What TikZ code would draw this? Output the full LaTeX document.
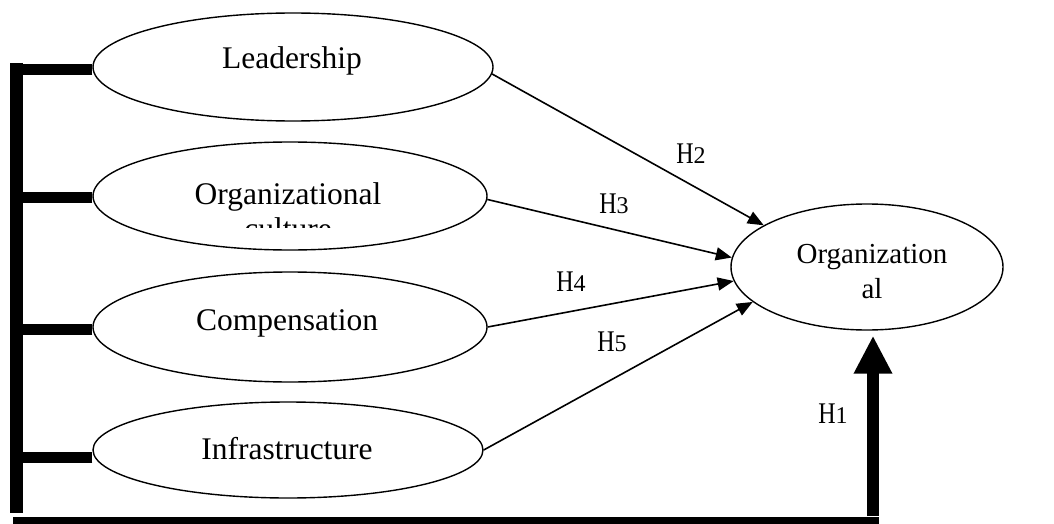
\documentclass[tikz,border=0pt]{standalone}
\usepackage{fontspec}
\setmainfont{Liberation Serif}
\newfontfamily\hfont[FakeStretch=0.8]{Liberation Serif}
\usetikzlibrary{arrows.meta,shapes.geometric}
\newcommand{\hlab}[1]{{\hfont\fontsize{30}{30}\selectfont H}{\rmfamily\fontsize{24}{24}\selectfont #1}}
\begin{document}
\begin{tikzpicture}[x=1pt,y=-1pt,
  ell/.style={draw, ellipse, line width=1.4pt, inner sep=0pt},
  lbl/.style={font=\fontsize{31.5}{36}\selectfont, anchor=base, inner sep=0pt},
  lblr/.style={font=\fontsize{29}{35}\selectfont, anchor=base, inner sep=0pt},
  hl/.style={anchor=base, inner sep=0pt},
  arr/.style={line width=1.6pt, -{Triangle[length=16pt,width=13pt]}},
  bus/.style={line width=13pt},
  stub/.style={line width=11pt},
  bottomline/.style={line width=8pt},
  bigarr/.style={line width=12pt, -{Triangle[length=38pt,width=36pt]}}
]
\useasboundingbox (0,0) rectangle (1054,524);

% ellipses
\node[ell, minimum width=400pt, minimum height=108pt] (L) at (293,67) {};
\node[ell, minimum width=394pt, minimum height=108pt] (OC) at (290,196) {};
\node[ell, minimum width=394pt, minimum height=110pt] (C) at (290,327) {};
\node[ell, minimum width=390pt, minimum height=96pt] (I) at (288,450) {};
\node[ell, minimum width=272pt, minimum height=126pt] (O) at (867,267) {};

% texts
\node[lbl] (tL) at (292,69) {Leadership};
\node[lbl] (tOC) at (288,204) {Organizational};
\begin{scope}
  \clip (150,150) rectangle (430,227);
  \node[lbl] (tOC2) at (288,239) {culture};
\end{scope}
\node[lbl] (tC) at (287,330) {Compensation};
\node[lbl] (tI) at (287,459) {Infrastructure};
\node[lblr] (tO1) at (872,263) {Organization};
\node[lblr] (tO2) at (872,298) {al};

% left bus
\coordinate (bt) at (16,63);
\coordinate (bb) at (16,513);
\draw[bus] (bt) -- (bb);
\coordinate (sL) at ([yshift=-3pt]L.west);
\coordinate (sOC) at ([yshift=-1pt]OC.west);
\coordinate (sC) at ([yshift=-2pt]C.west);
\coordinate (sI) at ([yshift=-7pt]I.west);
\draw[stub] (sL) -- (sL -| bt);
\draw[stub] (sOC) -- (sOC -| bt);
\draw[stub] (sC) -- (sC -| bt);
\draw[stub] (sI) -- (sI -| bt);

% bottom line and H1 arrow
\coordinate (bl) at (13,520.5);
\coordinate (br) at (879,520.5);
\draw[bottomline] (bl) -- (br);
\coordinate (h1s) at (873,516);
\draw[bigarr, shorten >=5pt] (h1s) -- (h1s |- O.south);

% hypothesis arrows
\draw[arr] (L.-2.3) -- (O.158);
\draw[arr] (OC.-1.7) -- (O.176);
\draw[arr] (C.0) -- (O.186);
\draw[arr] (I.0) -- (O.197);

% labels
\node[hl] (H2) at (691,163) {\hlab{2}};
\node[hl] (H3) at (614,213) {\hlab{3}};
\node[hl] (H4) at (571,291) {\hlab{4}};
\node[hl] (H5) at (612,351) {\hlab{5}};
\node[hl] (H1) at (833,423) {\hlab{1}};
\end{tikzpicture}
\end{document}
